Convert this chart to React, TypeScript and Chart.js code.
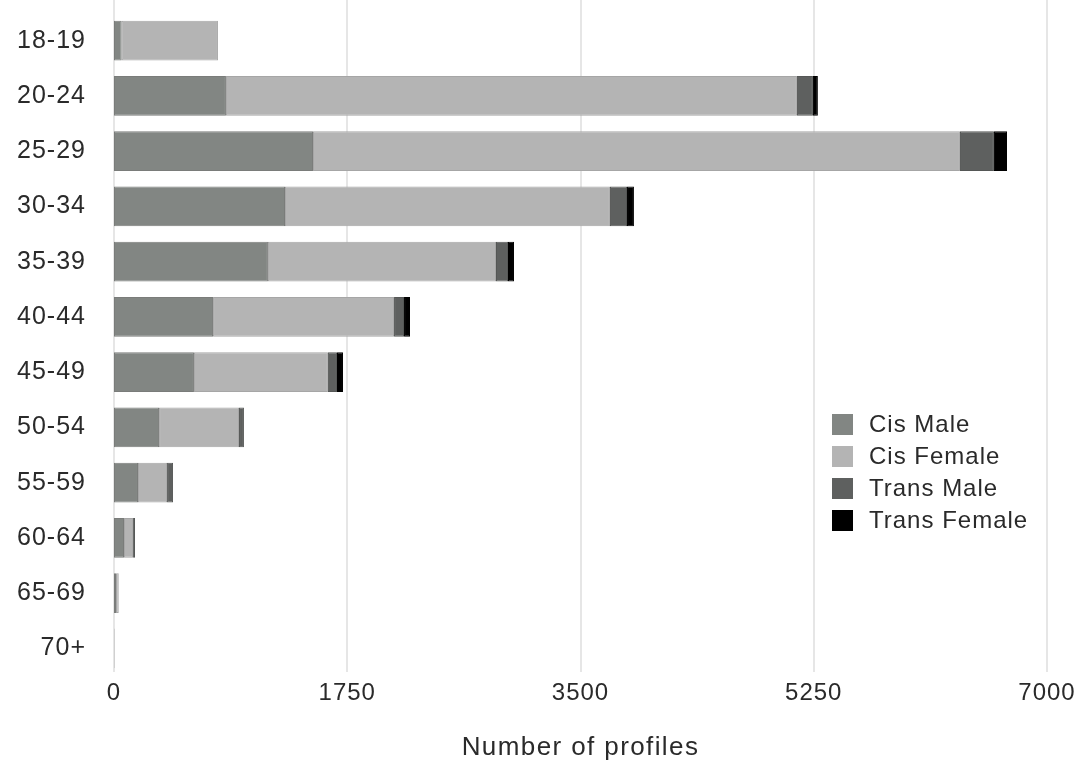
import React, { useEffect, useRef } from "react";
import { Chart, registerables } from "chart.js";

Chart.register(...registerables);

const ageGroups = ["18-19", "20-24", "25-29", "30-34", "35-39", "40-44", "45-49", "50-54", "55-59", "60-64", "65-69", "70+"];
const cisMale = [58, 840, 1493, 1283, 1155, 743, 600, 338, 180, 75, 15, 3];
const cisFemale = [722, 4284, 4854, 2438, 1711, 1358, 1005, 600, 218, 68, 20, 2];
const transMale = [0, 120, 255, 128, 90, 75, 68, 37, 45, 15, 3, 0];
const transFemale = [0, 37, 98, 52, 45, 45, 45, 0, 0, 0, 0, 0];
const xTicks = [0, 1750, 3500, 5250, 7000];
const axisTitle = "Number of profiles";

const seriesNames = ["Cis Male", "Cis Female", "Trans Male", "Trans Female"];
const seriesColors = ["#828683", "#b4b4b4", "#5e605f", "#000000"];
const seriesBorders = ["#7a7c7a", "#a6a6a6", "#555756", "#000000"];

const FONT = "'Liberation Sans', Arial, Helvetica, sans-serif";
const TEXT = "#2a2a2a";

const gridPlugin = {
  id: "fullGrid",
  beforeDraw(chart: any) {
    (chart.ctx as any).letterSpacing = "1px";
  },
  beforeDatasetsDraw(chart: any) {
    const { ctx, chartArea, scales } = chart;
    const x = scales.x;
    ctx.save();
    ctx.strokeStyle = "#e6e6e6";
    ctx.lineWidth = 2;
    xTicks.forEach((v) => {
      const px = Math.round(x.getPixelForValue(v));
      ctx.beginPath();
      ctx.moveTo(px, 0);
      ctx.lineTo(px, chartArea.bottom - 4);
      ctx.stroke();
    });
    ctx.restore();
  },
};

export default function App() {
  const canvasRef = useRef<HTMLCanvasElement | null>(null);

  useEffect(() => {
    if (!canvasRef.current) return;
    const data = [cisMale, cisFemale, transMale, transFemale];
    const chart = new Chart(canvasRef.current, {
      type: "bar",
      data: {
        labels: ageGroups,
        datasets: seriesNames.map((name, i) => ({
          label: name,
          data: data[i],
          backgroundColor: seriesColors[i],
          borderColor: seriesBorders[i],
          borderWidth: 1,
          borderSkipped: false,
          categoryPercentage: 0.8,
          barPercentage: 0.9,
        })),
      },
      options: {
        indexAxis: "y",
        animation: false,
        responsive: true,
        maintainAspectRatio: false,
        layout: { padding: { left: 0, right: 37, top: 13, bottom: 0 } },
        plugins: {
          legend: { display: false },
          tooltip: { enabled: false },
        },
        scales: {
          x: {
            stacked: true,
            min: 0,
            max: 7000,
            afterBuildTicks: (scale: any) => {
              scale.ticks = xTicks.map((v) => ({ value: v }));
            },
            afterFit: (scale: any) => {
              scale.height = 89;
            },
            grid: { display: false, drawTicks: false },
            border: { display: false },
            ticks: {
              padding: 3,
              color: TEXT,
              font: { family: FONT, size: 24 },
              maxRotation: 0,
              callback: (v: any) => String(v),
            },
            title: { display: false },
          },
          y: {
            stacked: true,
            afterFit: (scale: any) => {
              scale.width = 114;
              scale.paddingTop = 0;
              scale.paddingBottom = 0;
            },
            grid: { display: false, drawTicks: false },
            border: { display: false },
            ticks: {
              padding: 28,
              color: TEXT,
              font: { family: FONT, size: 25 },
            },
          },
        },
      },
      plugins: [gridPlugin],
    });
    return () => chart.destroy();
  }, []);

  return (
    <div style={{ position: "absolute", left: 0, top: 0, width: 1084, height: 765, background: "#fff" }}>
      <canvas ref={canvasRef} />
      <div
        style={{
          position: "absolute",
          left: 114,
          width: 933,
          top: 731,
          textAlign: "center",
          fontFamily: FONT,
          fontSize: 26,
          letterSpacing: "1.4px",
          lineHeight: "30px",
          color: TEXT,
        }}
      >
        {axisTitle}
      </div>
      <div
        style={{
          position: "absolute",
          left: 832,
          top: 408,
          fontFamily: FONT,
          fontSize: 24,
          letterSpacing: "1px",
          color: TEXT,
        }}
      >
        {seriesNames.map((name, i) => (
          <div key={name} style={{ display: "flex", alignItems: "center", height: 32 }}>
            <span style={{ width: 21, height: 21, background: seriesColors[i], display: "inline-block", marginRight: 16 }} />
            <span>{name}</span>
          </div>
        ))}
      </div>
    </div>
  );
}
